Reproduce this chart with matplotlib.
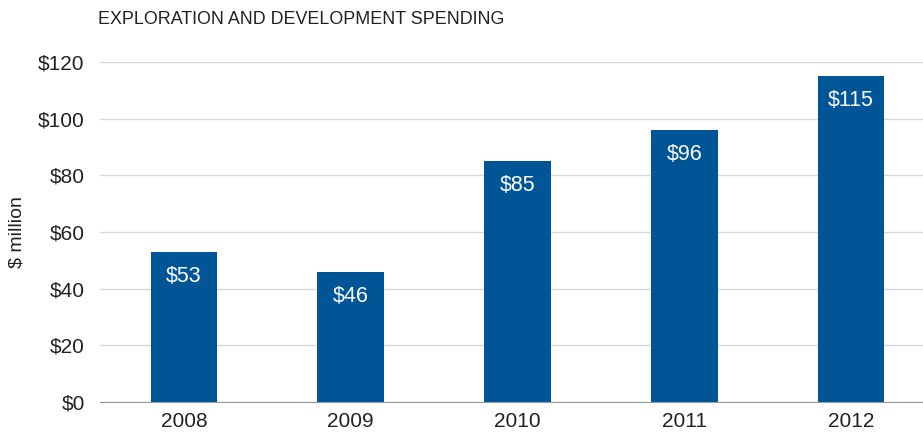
import matplotlib
matplotlib.use("Agg")
import matplotlib.pyplot as plt

years = ["2008", "2009", "2010", "2011", "2012"]
spending = [53, 46, 85, 96, 115]
yticks = [0, 20, 40, 60, 80, 100, 120]
BAR_COLOR = "#005596"

plt.rcParams['font.family'] = ['Liberation Sans', 'DejaVu Sans']

fig = plt.figure(figsize=(9.23, 4.32), dpi=100)
ax = fig.add_axes([100 / 923, 30 / 432, 823 / 923, 340 / 432])

x = range(len(years))
bars = ax.bar(x, spending, width=0.4, color=BAR_COLOR, zorder=3)
for b, v in zip(bars, spending):
    ax.text(b.get_x() + b.get_width() / 2, v - 5, "$%d" % v,
            ha="center", va="top", color="white", fontsize=15.5, zorder=4)

ax.set_xlim(-0.503, 4.431)
ax.set_ylim(0, 120)
ax.set_yticks(yticks)
ax.set_yticklabels(["$%d" % t for t in yticks])
ax.set_xticks(list(x))
ax.set_xticklabels(years)
ax.tick_params(axis="both", length=0, labelsize=15, colors="#222222")
ax.tick_params(axis="y", pad=11)
ax.tick_params(axis="x", pad=7)

ax.grid(axis="y", color="#d9d9d9", linewidth=1, zorder=0)
for s in ["top", "right", "left"]:
    ax.spines[s].set_visible(False)
ax.spines["bottom"].set_color("#999999")
ax.spines["bottom"].set_zorder(5)

ax.set_ylabel("$ million", fontsize=14, color="#222222", labelpad=9)
fig.text(98 / 923, 1 - 19 / 432, "EXPLORATION AND DEVELOPMENT SPENDING",
         fontsize=12.9, color="#222222", va="center", ha="left")

fig.savefig("out.png", dpi=100)
